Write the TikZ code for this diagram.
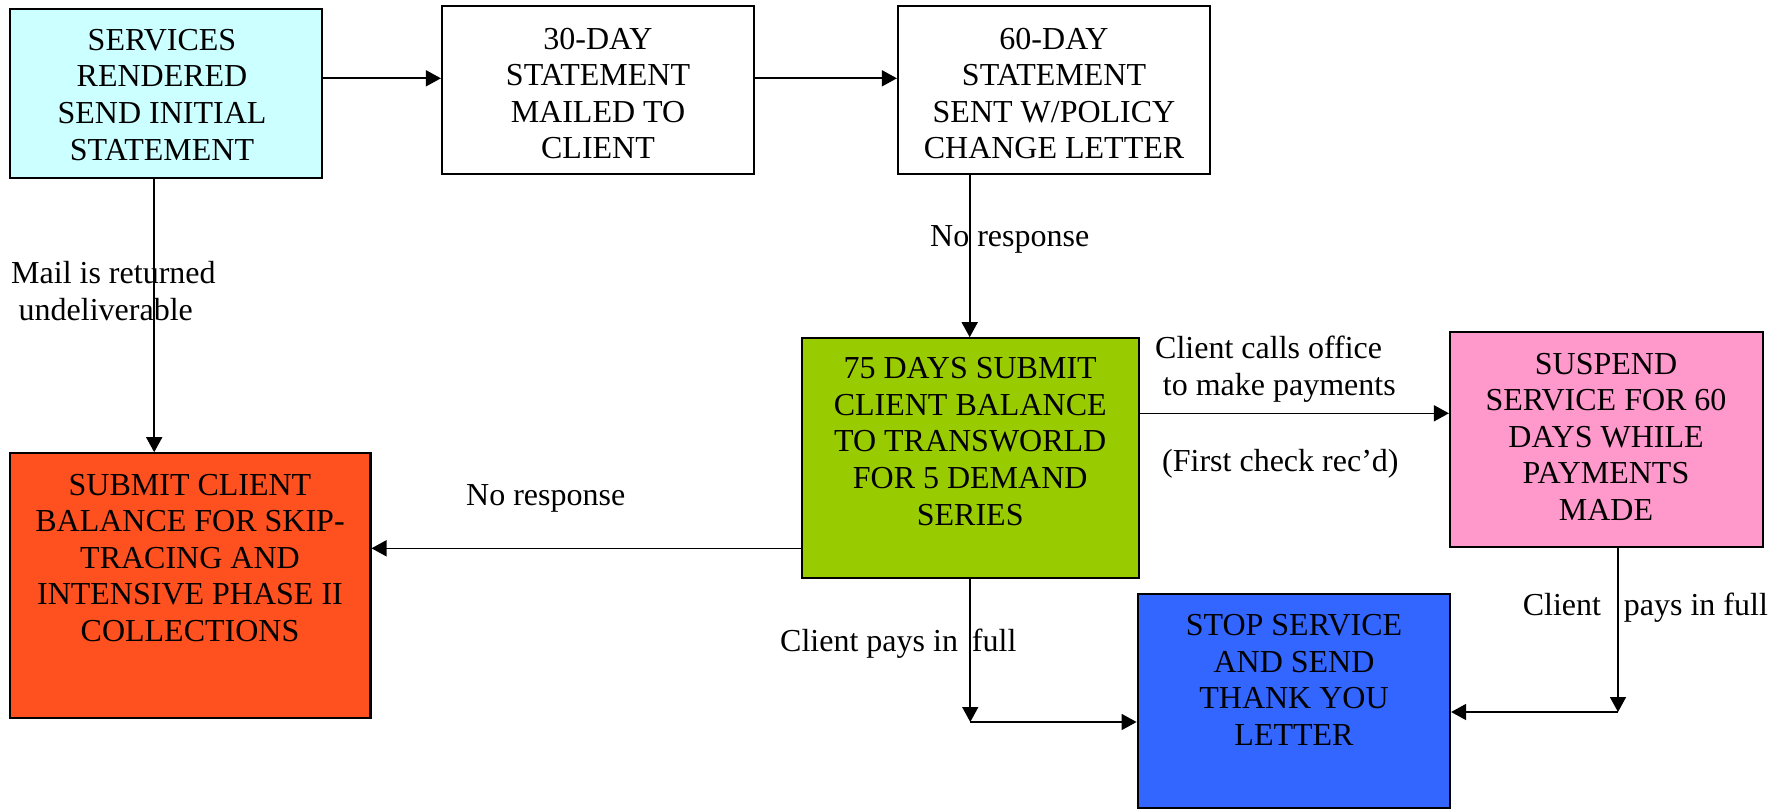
\documentclass[tikz,border=0pt]{standalone}
\usepackage{fontspec}
\setmainfont{Liberation Serif}
\usetikzlibrary{arrows.meta}
\definecolor{cyanbox}{HTML}{CCFFFF}
\definecolor{redbox}{HTML}{FF5020}
\definecolor{greenbox}{HTML}{99CC00}
\definecolor{pinkbox}{HTML}{FF99CC}
\definecolor{bluebox}{HTML}{3366FF}
\begin{document}
\begin{tikzpicture}[x=1pt,y=-1pt,
  box/.style={draw=black,line width=2.2pt,rectangle,inner sep=0pt},
  txt/.style={font=\fontsize{32}{36.6}\selectfont,align=center,inner sep=0pt},
  lbl/.style={font=\fontsize{32}{36.6}\selectfont,inner sep=0pt,anchor=base west},
  conn/.style={line width=1.6pt,-{Triangle[length=15pt,width=16pt]}}]
\useasboundingbox (0,0) rectangle (1779,810);
% boxes
\node[box,fill=cyanbox,minimum width=312.4pt,minimum height=168.4pt] (cyan) at (165.8,93.5) {};
\node[box,fill=white,minimum width=312pt,minimum height=168pt] (b30) at (598,89.7) {};
\node[box,fill=white,minimum width=312pt,minimum height=168pt] (b60) at (1054,89.7) {};
\node[box,fill=greenbox,minimum width=337.1pt,minimum height=240pt] (green) at (970.25,458.3) {};
\node[box,fill=redbox,minimum width=360.8pt,minimum height=265pt] (red) at (190,585.8) {};
\node[box,fill=pinkbox,minimum width=312.6pt,minimum height=215.6pt] (pink) at (1606.3,439.5) {};
\node[box,fill=bluebox,minimum width=312.3pt,minimum height=214pt] (blue) at (1293.85,701) {};
% box texts
\node[txt] (tcyan) at (162,94.7) {SERVICES\\RENDERED\\SEND INITIAL\\STATEMENT};
\node[txt] (t30) at (598,93.6) {30-DAY\\STATEMENT\\MAILED TO\\CLIENT};
\node[txt] (t60) at (1054,93.6) {60-DAY\\STATEMENT\\SENT W/POLICY\\CHANGE LETTER};
\node[txt] (tgreen) at (970.2,441.4) {75 DAYS SUBMIT\\CLIENT BALANCE\\TO TRANSWORLD\\FOR 5 DEMAND\\SERIES};
\node[txt] (tred) at (190,557.9) {SUBMIT CLIENT\\BALANCE FOR SKIP-\\TRACING AND\\INTENSIVE PHASE II\\COLLECTIONS};
\node[txt] (tpink) at (1606,436.7) {SUSPEND\\SERVICE FOR 60\\DAYS WHILE\\PAYMENTS\\MADE};
\node[txt] (tblue) at (1294,680) {STOP SERVICE\\AND SEND\\THANK YOU\\LETTER};
% connectors
\draw[conn] ([yshift=15.2pt]cyan.east) -- ([yshift=15.2pt]cyan.east -| b30.west);
\draw[conn] ([yshift=11.4pt]b30.east) -- ([yshift=11.4pt]b30.east -| b60.west);
\draw[conn] ([xshift=-84.3pt]b60.south) -- ([xshift=-84.3pt]b60.south |- green.north);
\draw[conn] ([xshift=-11.6pt]cyan.south) -- ([xshift=-11.6pt]cyan.south |- red.north);
\draw[conn] ([yshift=-90pt]green.west) -- ([yshift=-90pt]green.west -| red.east);
\draw[conn] ([yshift=45pt]green.east) -- ([yshift=45pt]green.east -| pink.west);
\coordinate (c1) at ([yshift=-21pt]blue.west -| green.south);
\draw[conn] (green.south) -- (c1);
\draw[conn] (c1) -- (c1 -| blue.west);
\coordinate (p2) at ([xshift=11.7pt]pink.south);
\coordinate (b2) at ([yshift=-11pt]blue.east);
\coordinate (c2) at (b2 -| p2);
\draw[conn] (p2) -- (c2);
\draw[conn] (c2) -- (b2);
% labels
\node[lbl] (lmail1) at (11,283.3) {Mail is returned};
\node[lbl] (lmail2) at (18.5,320) {undeliverable};
\node[lbl] (lnr1) at (930,246.7) {No response};
\node[lbl] (lnr2) at (466,505) {No response};
\node[lbl] (lcall1) at (1155,358.3) {Client calls office};
\node[lbl] (lcall2) at (1162.7,395.7) {to make payments};
\node[lbl] (lcheck) at (1162,471) {(First check rec’d)};
\node[lbl] (lfull1) at (780,651.7) {Client pays in\hspace{14pt}full};
\node[lbl] (lfull2) at (1522.6,615) {Client\hspace{22.9pt}pays in full};
\end{tikzpicture}
\end{document}
